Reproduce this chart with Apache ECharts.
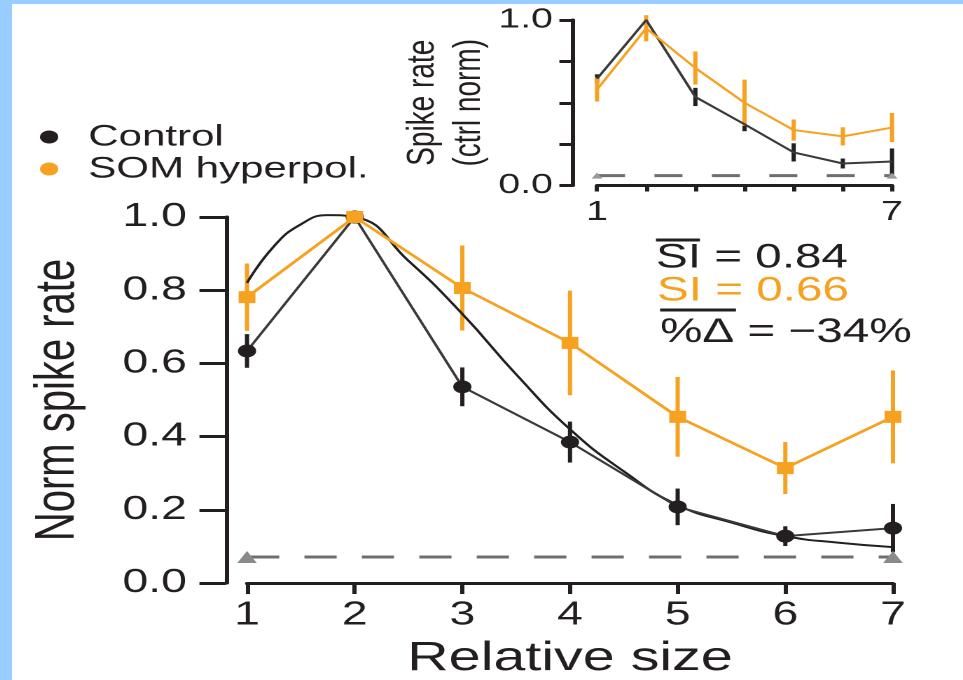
<!DOCTYPE html>
<html>
<head>
<meta charset="utf-8">
<title>Norm spike rate vs relative size</title>
<script src="https://cdn.jsdelivr.net/npm/echarts@6/dist/echarts.min.js"></script>
<style>
  html, body { margin: 0; padding: 0; width: 963px; height: 680px; overflow: hidden; background: #99ccff; }
  #paper { position: absolute; left: 12px; top: 4px; width: 951px; height: 676px; background: #fff; overflow: hidden; }
  /* the figure is stretched sideways, so draw it narrow and widen it */
  #chart { width: 679px; height: 676px; transform: scaleX(1.4006); transform-origin: 0 0; }
</style>
</head>
<body>
<div id="paper"><div id="chart"></div></div>
<script>
// ---- main panel ----
var sizes = [1, 2, 3, 4, 5, 6, 7];
var xTickLabels = ['1', '2', '3', '4', '5', '6', '7'];
var yTickLabels = ['0.0', '0.2', '0.4', '0.6', '0.8', '1.0'];
var controlRate = [0.634, 1.0, 0.536, 0.385, 0.208, 0.128, 0.150];
var controlErr = [0.046, 0.0, 0.053, 0.056, 0.050, 0.027, 0.066];
var somRate = [0.781, 1.0, 0.806, 0.656, 0.454, 0.314, 0.454];
var somErr = [0.092, 0.0, 0.116, 0.143, 0.109, 0.071, 0.127];
// fitted tuning curve (control)
var fitX = [1, 1.25, 1.5, 1.75, 2, 2.5, 3, 3.5, 4, 4.5, 5, 5.5, 6, 6.5, 7];
var fitRate = [0.82, 0.92, 0.98, 1.005, 1.0, 0.88, 0.735, 0.57, 0.42, 0.305, 0.213, 0.165, 0.128, 0.11, 0.098];
// spontaneous rate
var baseX = [1, 7];
var baseRate = [0.071, 0.071];

// ---- inset ----
var insetXTickLabels = ['1', '', '', '', '', '', '7'];
var insetYTickLabels = ['0.0', '', '', '', '1.0'];
var insetControl = [0.645, 1.0, 0.535, 0.37, 0.20, 0.133, 0.145];
var insetControlErr = [0.027, 0.0, 0.055, 0.042, 0.055, 0.03, 0.079];
var insetSom = [0.58, 0.95, 0.71, 0.50, 0.335, 0.297, 0.35];
var insetSomErr = [0.073, 0.079, 0.10, 0.14, 0.064, 0.055, 0.088];
var insetBaseRate = [0.06, 0.06];

var statLines = ['SI = 0.84', 'SI = 0.66', '%\u0394 = \u221234%'];

var INK = '#231f20';
var ORANGE = '#f6a11f';
var FONT = '"Liberation Sans", Arial, sans-serif';

function pairs(xs, ys) {
  return xs.map(function (x, i) { return [x, ys[i]]; });
}

// vertical error bars drawn through the axis scale
function errorBars(idx, xs, mean, err, color, width) {
  return {
    type: 'custom',
    xAxisIndex: idx,
    yAxisIndex: idx,
    silent: true,
    clip: false,
    encode: { x: 0, y: [1, 2] },
    data: xs.map(function (x, i) { return [x, mean[i] - err[i], mean[i] + err[i]]; }),
    renderItem: function (params, api) {
      var lo = api.coord([api.value(0), api.value(1)]);
      var hi = api.coord([api.value(0), api.value(2)]);
      return {
        type: 'line',
        shape: { x1: lo[0], y1: lo[1], x2: hi[0], y2: hi[1] },
        style: { stroke: color, lineWidth: width }
      };
    }
  };
}

var chart = echarts.init(document.getElementById('chart'), null, { devicePixelRatio: 2 });

chart.setOption({
  animation: false,
  textStyle: { fontFamily: FONT, color: INK },
  legend: {
    orient: 'vertical',
    left: 20,
    top: 118,
    padding: 0,
    itemGap: 2,
    itemWidth: 46,
    itemHeight: 13,
    icon: 'circle',
    selectedMode: false,
    data: ['Control', 'SOM hyperpol.'],
    textStyle: { fontSize: 30, color: INK, fontFamily: FONT }
  },
  grid: [
    { left: 167.8, right: 50, top: 213, bottom: 97, outerBoundsMode: 'none' },
    { left: 417.7, right: 50.7, top: 16, bottom: 494.5, outerBoundsMode: 'none' }
  ],
  xAxis: [
    {
      gridIndex: 0, type: 'value', min: 1, max: 7, interval: 1,
      splitLine: { show: false },
      axisLine: { show: true, onZero: false, lineStyle: { color: INK, width: 3 } },
      axisTick: { show: true, length: 11, lineStyle: { color: INK, width: 3 } },
      axisLabel: {
        margin: 16, fontSize: 33, color: INK, fontFamily: FONT,
        formatter: function (v) { return xTickLabels[v - 1]; }
      },
      name: 'Relative size', nameLocation: 'middle', nameGap: 55,
      nameTextStyle: { fontSize: 41, color: INK, fontFamily: FONT }
    },
    {
      gridIndex: 1, type: 'value', min: 1, max: 7, interval: 1,
      splitLine: { show: false },
      axisLine: { show: true, onZero: false, lineStyle: { color: INK, width: 3 } },
      axisTick: { show: true, length: 6, lineStyle: { color: INK, width: 3 } },
      axisLabel: {
        margin: 13, fontSize: 28, color: INK, fontFamily: FONT,
        formatter: function (v) { return insetXTickLabels[v - 1]; }
      }
    }
  ],
  yAxis: [
    {
      gridIndex: 0, type: 'value', min: 0, max: 1, interval: 0.2, offset: 15,
      splitLine: { show: false },
      axisLine: { show: true, onZero: false, lineStyle: { color: INK, width: 3 } },
      axisTick: { show: true, length: 19, lineStyle: { color: INK, width: 3 } },
      axisLabel: {
        margin: 28, fontSize: 33, color: INK, fontFamily: FONT,
        formatter: function (v) { return yTickLabels[Math.round(v / 0.2)]; }
      },
      name: 'Norm spike rate', nameLocation: 'middle', nameGap: 100,
      nameTextStyle: { fontSize: 40, color: INK, fontFamily: FONT }
    },
    {
      gridIndex: 1, type: 'value', min: 0, max: 1, interval: 0.25, offset: 17.9,
      splitLine: { show: false },
      axisLine: { show: true, onZero: false, lineStyle: { color: INK, width: 3 } },
      axisTick: { show: true, length: 9, lineStyle: { color: INK, width: 3 } },
      axisLabel: {
        margin: 13.6, fontSize: 28, color: INK, fontFamily: FONT,
        formatter: function (v) { return insetYTickLabels[Math.round(v / 0.25)]; }
      },
      name: 'Spike rate\n(ctrl norm)', nameLocation: 'middle', nameGap: 57,
      nameTextStyle: { fontSize: 28, lineHeight: 33, color: INK, fontFamily: FONT }
    }
  ],
  graphic: [
    { type: 'text', x: 459.8, y: 254, style: { text: statLines[0], font: '34px ' + FONT, fill: INK, verticalAlign: 'middle' } },
    { type: 'line', shape: { x1: 459.8, y1: 236, x2: 491.2, y2: 236 }, style: { stroke: INK, lineWidth: 3 } },
    { type: 'text', x: 460.5, y: 287, style: { text: statLines[1], font: '34px ' + FONT, fill: ORANGE, verticalAlign: 'middle' } },
    { type: 'line', shape: { x1: 462.7, y1: 306, x2: 516.9, y2: 306 }, style: { stroke: INK, lineWidth: 3 } },
    { type: 'text', x: 462.7, y: 328.5, style: { text: statLines[2], font: '34px ' + FONT, fill: INK, verticalAlign: 'middle' } }
  ],
  series: [
    // main panel
    {
      name: 'baseline', type: 'line', xAxisIndex: 0, yAxisIndex: 0, clip: false, silent: true,
      data: pairs(baseX, baseRate),
      symbol: 'triangle', symbolSize: [14, 12], showSymbol: true,
      itemStyle: { color: '#8a8a8a' },
      lineStyle: { color: '#6e6e6e', width: 3, type: [23, 18] }
    },
    {
      name: 'fit', type: 'line', xAxisIndex: 0, yAxisIndex: 0, clip: false, silent: true,
      data: pairs(fitX, fitRate), smooth: true, showSymbol: false,
      lineStyle: { color: INK, width: 2 }
    },
    errorBars(0, sizes, controlRate, controlErr, INK, 3),
    {
      name: 'Control', type: 'line', xAxisIndex: 0, yAxisIndex: 0, clip: false,
      data: pairs(sizes, controlRate),
      symbol: 'circle', symbolSize: 13,
      itemStyle: { color: INK },
      lineStyle: { color: '#3a3a3a', width: 2 }
    },
    errorBars(0, sizes, somRate, somErr, ORANGE, 3),
    {
      name: 'SOM hyperpol.', type: 'line', xAxisIndex: 0, yAxisIndex: 0, clip: false,
      data: pairs(sizes, somRate),
      symbol: 'rect', symbolSize: 12,
      itemStyle: { color: ORANGE },
      lineStyle: { color: ORANGE, width: 2.5 }
    },

    // inset
    {
      name: 'inset baseline', type: 'line', xAxisIndex: 1, yAxisIndex: 1, clip: false, silent: true,
      data: pairs(baseX, insetBaseRate),
      symbol: 'triangle', symbolSize: [8, 6], showSymbol: true,
      itemStyle: { color: '#9a9a9a' },
      lineStyle: { color: '#6e6e6e', width: 3, type: [20, 21] }
    },
    errorBars(1, sizes, insetControl, insetControlErr, INK, 3),
    {
      name: 'inset control', type: 'line', xAxisIndex: 1, yAxisIndex: 1, clip: false, silent: true,
      data: pairs(sizes, insetControl), showSymbol: false,
      lineStyle: { color: '#3a3a3a', width: 2 }
    },
    errorBars(1, sizes, insetSom, insetSomErr, ORANGE, 3),
    {
      name: 'inset som', type: 'line', xAxisIndex: 1, yAxisIndex: 1, clip: false, silent: true,
      data: pairs(sizes, insetSom), showSymbol: false,
      lineStyle: { color: ORANGE, width: 2 }
    }
  ]
});
</script>
</body>
</html>
